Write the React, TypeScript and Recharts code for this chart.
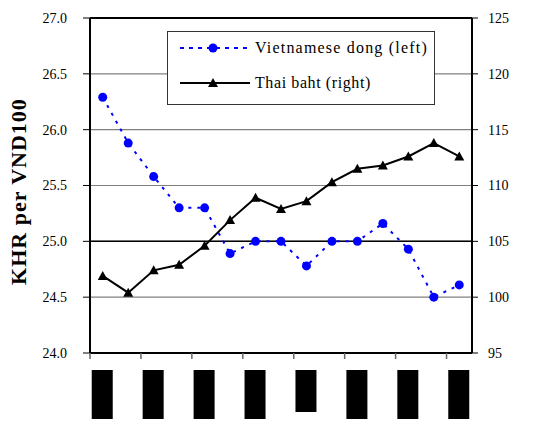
import React from 'react';
import { ComposedChart, Line, XAxis, YAxis, CartesianGrid, ReferenceLine, Legend } from 'recharts';

// monthly periods (labels are blacked out in the source)
const periods = ['1', '2', '3', '4', '5', '6', '7', '8', '9', '10', '11', '12', '13', '14', '15'];
const vndRates = [26.29, 25.88, 25.58, 25.3, 25.3, 24.89, 25.0, 25.0, 24.78, 25.0, 25.0, 25.16, 24.93, 24.5, 24.61];
const thbRates = [101.9, 100.4, 102.4, 102.9, 104.6, 106.9, 108.9, 107.9, 108.6, 110.3, 111.5, 111.8, 112.6, 113.8, 112.6];
const leftTicks = [24.0, 24.5, 25.0, 25.5, 26.0, 26.5, 27.0];
const rightTicks = [95, 100, 105, 110, 115, 120, 125];

const data = periods.map((p, i) => ({ period: p, vnd: vndRates[i], thb: thbRates[i] }));

const FONT = '"Liberation Serif", "Times New Roman", serif';
const PLOT_W = 382;
const BAND = PLOT_W / periods.length;
const LABEL_BOX_H = [58, 53, 58, 58, 42, 54, 58, 53];

const PeriodTick = (props: any) => {
    const { x, y, index } = props;
    if (index % 2 !== 0) return null;
    const left = x - BAND / 2;
    return (
        <g>
            <line x1={left} x2={left} y1={y} y2={y + 6} stroke="#666" strokeWidth={1.5} />
            <rect x={x - 11} y={y + 17} width={21} height={LABEL_BOX_H[index / 2]} fill="#000" />
        </g>
    );
};

const Triangle = (props: any) => {
    const { cx, cy } = props;
    if (cx == null || cy == null) return null;
    return <path d={`M${cx},${cy - 5} L${cx + 5},${cy + 4} L${cx - 5},${cy + 4} Z`} fill="#000" />;
};

const textStyle = { fontFamily: FONT, fontSize: 16, fill: '#000' };

const LegendBox = () => (
    <svg width={268} height={74} style={{ display: 'block' }}>
        <rect x={0.5} y={0.5} width={267} height={73} fill="#fff" stroke="#333" />
        <line x1={13} x2={83} y1={17} y2={17} stroke="#0000ff" strokeWidth={2} strokeDasharray="4 5" />
        <circle cx={46} cy={17} r={4.5} fill="#0000ff" />
        <text x={88} y={22} style={{ ...textStyle, letterSpacing: 1.2 }}>Vietnamese dong (left)</text>
        <line x1={13} x2={83} y1={52} y2={52} stroke="#000" strokeWidth={2} />
        <path d="M46,47 L51,56 L41,56 Z" fill="#000" />
        <text x={88} y={57} style={{ ...textStyle, letterSpacing: 0.6 }}>Thai baht (right)</text>
    </svg>
);

export default function App() {
    return (
        <div style={{ position: 'relative', width: 534, height: 427, margin: -8, background: '#fff', fontFamily: FONT }}>
            <ComposedChart
                width={534}
                height={427}
                data={data}
                margin={{ top: 18, right: 0, bottom: 0, left: 0 }}
            >
                <CartesianGrid vertical={false} stroke="#808080" strokeWidth={1.2} yAxisId="left" />
                <XAxis
                    dataKey="period"
                    interval={0}
                    height={74}
                    padding={{ left: BAND / 2, right: BAND / 2 }}
                    tickSize={0}
                    tickMargin={0}
                    tickLine={false}
                    tick={<PeriodTick />}
                    axisLine={{ stroke: '#000', strokeWidth: 2 }}
                />
                <YAxis
                    yAxisId="left"
                    width={90}
                    domain={[24, 27]}
                    ticks={leftTicks}
                    tickFormatter={(v: number) => v.toFixed(1)}
                    tickSize={7}
                    tickMargin={16}
                    tick={{ fontSize: 14, fill: '#000', style: { fontFamily: FONT } }}
                    axisLine={{ stroke: '#000', strokeWidth: 2 }}
                    tickLine={{ stroke: '#000' }}
                    label={{
                        value: 'KHR per VND100',
                        angle: -90,
                        position: 'center',
                        dx: -27,
                        dy: 6,
                        style: { fontSize: 22, fontWeight: 'bold', fill: '#000', fontFamily: FONT, letterSpacing: 1 },
                    }}
                />
                <YAxis
                    yAxisId="right"
                    orientation="right"
                    width={62}
                    domain={[95, 125]}
                    ticks={rightTicks}
                    tickSize={6}
                    tickMargin={10}
                    tick={{ fontSize: 14, fill: '#000', textAnchor: 'start', style: { fontFamily: FONT } }}
                    axisLine={{ stroke: '#000', strokeWidth: 2 }}
                    tickLine={{ stroke: '#000' }}
                    label={{
                        value: 'KHR per THB',
                        angle: -90,
                        position: 'center',
                        dx: 34,
                        dy: -2,
                        style: { fontSize: 22, fontWeight: 'bold', fill: '#000', fontFamily: FONT, letterSpacing: 1 },
                    }}
                />
                <ReferenceLine yAxisId="left" y={25} stroke="#000" strokeWidth={1.5} />
                <ReferenceLine yAxisId="left" y={27} stroke="#000" strokeWidth={2} />
                <Legend
                    layout="vertical"
                    align="center"
                    verticalAlign="middle"
                    content={<LegendBox />}
                    wrapperStyle={{ left: 167, top: 31, width: 268, height: 74 }}
                />
                <Line
                    yAxisId="left"
                    dataKey="vnd"
                    name="Vietnamese dong (left)"
                    stroke="#0000ff"
                    strokeWidth={2}
                    strokeDasharray="3 6"
                    dot={{ r: 4.5, fill: '#0000ff', stroke: '#0000ff', strokeWidth: 0 }}
                    isAnimationActive={false}
                />
                <Line
                    yAxisId="right"
                    dataKey="thb"
                    name="Thai baht (right)"
                    stroke="#000"
                    strokeWidth={2}
                    dot={<Triangle />}
                    isAnimationActive={false}
                />
            </ComposedChart>
        </div>
    );
}
